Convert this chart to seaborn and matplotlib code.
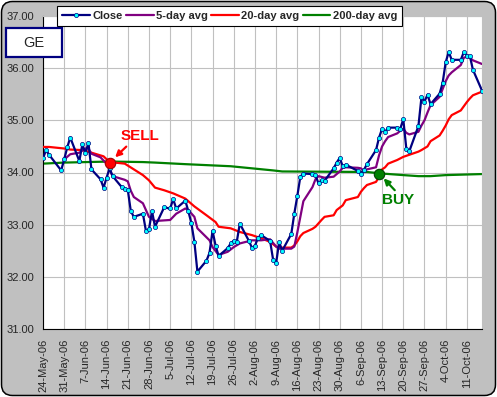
import matplotlib
matplotlib.use('Agg')
import numpy as np
import pandas as pd
import matplotlib.pyplot as plt
from matplotlib.patches import FancyBboxPatch, Rectangle
from matplotlib.ticker import FormatStrFormatter
import seaborn as sns

sns.set_style('white')
plt.rcParams['font.family'] = ['Liberation Sans', 'DejaVu Sans']

#%% Data (GE, 2006)

close_days = ['05-24', '05-25', '05-26', '05-30', '05-31', '06-01', '06-02', '06-05', '06-06', '06-07',
              '06-08', '06-09', '06-12', '06-13', '06-14', '06-15', '06-16', '06-19', '06-20', '06-21',
              '06-22', '06-23', '06-26', '06-27', '06-28', '06-29', '06-30', '07-03', '07-05', '07-06',
              '07-07', '07-10', '07-11', '07-12', '07-13', '07-14', '07-17', '07-18', '07-19', '07-20',
              '07-21', '07-24', '07-25', '07-26', '07-27', '07-28', '07-31', '08-01', '08-02', '08-03',
              '08-04', '08-07', '08-08', '08-09', '08-10', '08-11', '08-14', '08-15', '08-16', '08-17',
              '08-18', '08-21', '08-22', '08-23', '08-24', '08-25', '08-28', '08-29', '08-30', '08-31',
              '09-01', '09-05', '09-06', '09-07', '09-08', '09-11', '09-12', '09-13', '09-14', '09-15',
              '09-18', '09-19', '09-20', '09-21', '09-22', '09-25', '09-26', '09-27', '09-28', '09-29',
              '10-02', '10-03', '10-04', '10-05', '10-06', '10-09', '10-10', '10-11', '10-12', '10-13',
              '10-16']
close = [34.27, 34.43, 34.34, 34.04, 34.25, 34.48, 34.67, 34.22, 34.54, 34.37,
         34.57, 34.06, 33.87, 33.71, 33.90, 34.08, 33.93, 33.72, 33.69, 33.67,
         33.26, 33.15, 33.21, 32.88, 32.91, 33.26, 32.96, 33.33, 33.31, 33.49,
         33.31, 33.46, 33.26, 33.03, 32.67, 32.10, 32.31, 32.46, 32.88, 32.60,
         32.40, 32.55, 32.64, 32.69, 32.67, 33.02, 32.69, 32.56, 32.59, 32.75,
         32.80, 32.69, 32.33, 32.26, 32.67, 32.50, 32.82, 33.21, 33.55, 33.92,
         33.98, 33.97, 33.95, 33.79, 33.85, 33.84, 34.08, 34.19, 34.28, 34.12,
         34.15, 34.03, 33.98, 34.05, 34.16, 34.43, 34.67, 34.84, 34.78, 34.86,
         34.86, 34.84, 35.02, 34.46, 34.41, 34.89, 35.44, 35.36, 35.49, 35.31,
         35.51, 35.72, 36.11, 36.31, 36.16, 36.16, 36.31, 36.24, 36.23, 35.97,
         35.57]

avg5_days = ['05-31', '06-02', '06-05', '06-07', '06-08', '06-09', '06-12', '06-14', '06-16', '06-20',
             '06-21', '06-22', '06-23', '06-26', '06-28', '06-30', '07-05', '07-07', '07-10', '07-11',
             '07-13', '07-14', '07-18', '07-19', '07-21', '07-24', '07-26', '07-28', '08-01', '08-04',
             '08-07', '08-09', '08-10', '08-14', '08-15', '08-16', '08-17', '08-18', '08-21', '08-22',
             '08-23', '08-25', '08-28', '08-30', '08-31', '09-01', '09-05', '09-06', '09-07', '09-08',
             '09-11', '09-12', '09-13', '09-14', '09-15', '09-18', '09-19', '09-20', '09-21', '09-22',
             '09-25', '09-26', '09-27', '09-28', '09-29', '10-02', '10-03', '10-04', '10-05', '10-06',
             '10-09', '10-10', '10-11', '10-12', '10-13', '10-16']
avg5 = [34.25, 34.35, 34.38, 34.46, 34.46, 34.36, 34.29, 34.17, 33.93, 33.86,
        33.83, 33.65, 33.53, 33.41, 33.15, 33.07, 33.09, 33.21, 33.31, 33.28,
        33.15, 32.93, 32.70, 32.57, 32.42, 32.48, 32.57, 32.64, 32.70, 32.70,
        32.72, 32.58, 32.54, 32.54, 32.58, 32.85, 33.15, 33.45, 33.72, 33.87,
        33.93, 33.90, 33.92, 34.02, 34.09, 34.10, 34.09, 34.08, 34.03, 34.06,
        34.10, 34.33, 34.50, 34.60, 34.68, 34.75, 34.80, 34.84, 34.76, 34.73,
        34.78, 34.90, 35.00, 35.15, 35.29, 35.45, 35.60, 35.75, 35.86, 35.92,
        36.06, 36.20, 36.22, 36.20, 36.15, 36.08]

avg20_days = ['05-24', '05-26', '05-31', '06-02', '06-06', '06-09', '06-13', '06-15', '06-20', '06-23',
              '06-26', '06-28', '06-30', '07-03', '07-06', '07-10', '07-13', '07-17', '07-20', '07-21',
              '07-25', '07-28', '08-01', '08-04', '08-07', '08-09', '08-10', '08-14', '08-15', '08-16',
              '08-17', '08-18', '08-21', '08-22', '08-24', '08-25', '08-28', '08-29', '08-31', '09-01',
              '09-05', '09-06', '09-07', '09-08', '09-11', '09-12', '09-13', '09-14', '09-15', '09-18',
              '09-19', '09-20', '09-22', '09-25', '09-26', '09-28', '09-29', '10-02', '10-03', '10-04',
              '10-05', '10-06', '10-09', '10-10', '10-11', '10-12', '10-13', '10-16']
avg20 = [34.49, 34.49, 34.46, 34.44, 34.43, 34.38, 34.31, 34.20, 34.17, 34.06,
         33.95, 33.85, 33.71, 33.66, 33.60, 33.50, 33.35, 33.18, 33.05, 32.96,
         32.93, 32.86, 32.80, 32.74, 32.67, 32.58, 32.56, 32.56, 32.60, 32.68,
         32.78, 32.84, 32.92, 32.96, 33.09, 33.15, 33.18, 33.28, 33.37, 33.47,
         33.53, 33.63, 33.70, 33.76, 33.82, 33.92, 34.06, 34.10, 34.17, 34.24,
         34.27, 34.30, 34.34, 34.40, 34.43, 34.50, 34.60, 34.71, 34.80, 34.90,
         35.02, 35.10, 35.19, 35.27, 35.35, 35.42, 35.48, 35.55]

avg200_days = ['05-24', '05-31', '06-15', '06-26', '06-30', '07-10', '07-25', '08-01', '08-08', '08-11',
               '09-08', '09-13', '09-20', '09-25', '09-29', '10-04', '10-16']
avg200 = [34.17, 34.19, 34.21, 34.20, 34.19, 34.16, 34.12, 34.08, 34.04, 34.02,
          34.01, 33.98, 33.95, 33.93, 33.93, 33.95, 33.97]

sell_day, sell_price = '06-15', 34.19
buy_day, buy_price = '09-12', 33.98

tick_labels = ['24-May-06', '31-May-06', '7-Jun-06', '14-Jun-06', '21-Jun-06', '28-Jun-06',
               '5-Jul-06', '12-Jul-06', '19-Jul-06', '26-Jul-06', '2-Aug-06', '9-Aug-06',
               '16-Aug-06', '23-Aug-06', '30-Aug-06', '6-Sep-06', '13-Sep-06', '20-Sep-06',
               '27-Sep-06', '4-Oct-06', '11-Oct-06']


def to_dates(days):
    return pd.to_datetime(['2006-' + d for d in days])


#%% Figure

fig = plt.figure(figsize=(4.97, 3.97), dpi=100, facecolor='white')
bg = FancyBboxPatch((0.015, 0.015), 4.94, 3.94, boxstyle='round,pad=0,rounding_size=0.11',
                    transform=fig.dpi_scale_trans, fc='#C0C0C0', ec='black', lw=1.1, zorder=-10)
fig.add_artist(bg)

ax = fig.add_axes([43 / 497, 68 / 397, 439 / 497, 313 / 397])
ax.set_facecolor('white')

sns.lineplot(x=to_dates(avg200_days), y=avg200, ax=ax, color='#008000', lw=1.6,
             label='200-day avg', zorder=2)
sns.lineplot(x=to_dates(avg20_days), y=avg20, ax=ax, color='#FF0000', lw=1.6,
             label='20-day avg', zorder=3)
sns.lineplot(x=to_dates(avg5_days), y=avg5, ax=ax, color='#800080', lw=1.6,
             label='5-day avg', zorder=4)
sns.lineplot(x=to_dates(close_days), y=close, ax=ax, color='#000080', lw=1.6,
             marker='o', markersize=3.0, markerfacecolor='#00FFFF',
             markeredgecolor='#000080', markeredgewidth=0.5, label='Close', zorder=5)

# sell / buy signals
sell_x = to_dates([sell_day])[0]
buy_x = to_dates([buy_day])[0]
ax.plot([sell_x], [sell_price], 'o', ms=7.5, mfc='#FF0000', mec='#A00000', mew=0.8, zorder=7)
ax.plot([buy_x], [buy_price], 'o', ms=7.5, mfc='#008000', mec='#004000', mew=0.8, zorder=7)

ax.annotate('', xy=(sell_x, sell_price), xytext=(12, 11.5), textcoords='offset points',
            arrowprops=dict(arrowstyle='-|>', color='#FF0000', lw=1.6, shrinkA=0, shrinkB=5.5,
                            mutation_scale=9), zorder=8)
ax.annotate('SELL', xy=(sell_x, sell_price), xytext=(22, 19), textcoords='offset points',
            ha='center', va='center', color='#FF0000', fontsize=11, fontweight='bold', zorder=8)
ax.annotate('', xy=(buy_x, buy_price), xytext=(11.3, -12), textcoords='offset points',
            arrowprops=dict(arrowstyle='-|>', color='#008000', lw=1.6, shrinkA=0, shrinkB=4.8,
                            mutation_scale=9), zorder=8)
ax.annotate('BUY', xy=(buy_x, buy_price), xytext=(13.7, -19.2), textcoords='offset points',
            ha='center', va='center', color='#008000', fontsize=11, fontweight='bold', zorder=8)

# axes
ax.set_xlim(pd.Timestamp('2006-05-24'), pd.Timestamp('2006-10-16'))
ax.set_ylim(31, 37)
ax.set_yticks(np.arange(31, 38))
ax.yaxis.set_major_formatter(FormatStrFormatter('%.2f'))
ax.set_xticks(pd.to_datetime(tick_labels, format='%d-%b-%y'))
ax.set_xticklabels(tick_labels, rotation=90)
ax.set_xlabel('')
ax.set_ylabel('')
ax.grid(True, color='#C0C0C0', lw=0.8)
ax.set_axisbelow(True)
ax.tick_params(direction='out', length=3, width=0.8, color='black', labelsize=8, pad=3)
ax.tick_params(axis='x', pad=4)
for side in ['left', 'bottom']:
    ax.spines[side].set_color('black')
    ax.spines[side].set_linewidth(0.8)
for side in ['top', 'right']:
    ax.spines[side].set_color('#C0C0C0')
    ax.spines[side].set_linewidth(0.8)

# legend
handles, labels = ax.get_legend_handles_labels()
order = ['Close', '5-day avg', '20-day avg', '200-day avg']
hl = dict(zip(labels, handles))
leg = ax.legend([hl[k] for k in order], order, loc='upper left',
                bbox_to_anchor=(57.3 / 497, 1 - 6 / 397), bbox_transform=fig.transFigure,
                ncol=4, frameon=True, fancybox=False, edgecolor='black', framealpha=1,
                prop=dict(weight='bold', size=8), handlelength=2.5, handletextpad=0.2,
                columnspacing=0.3, borderpad=0.45, borderaxespad=0, numpoints=1)
leg.get_frame().set_linewidth(0.8)
leg.set_zorder(10)

# ticker box
ge_box = Rectangle((6 / 497, 1 - 57.3 / 397), 56 / 497, 29 / 397, transform=fig.transFigure,
                   fc='white', ec='#000080', lw=1.6, zorder=5)
fig.add_artist(ge_box)
fig.text(34 / 497, 1 - 42.8 / 397, 'GE', ha='center', va='center', fontsize=10.5, zorder=6)

fig.savefig('out.png', dpi=100, facecolor='white')
